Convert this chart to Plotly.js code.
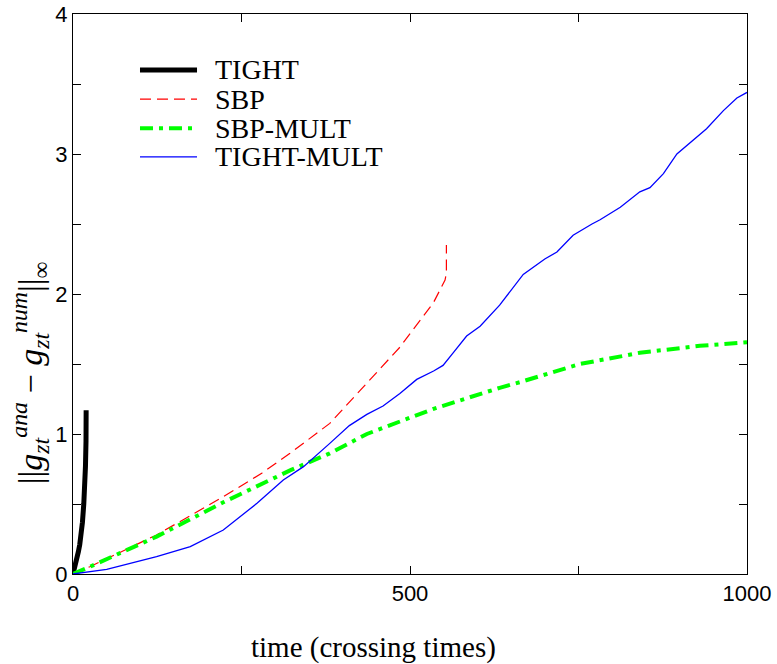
<!DOCTYPE html>
<html>
<head>
<meta charset="utf-8">
<script src="https://cdn.plot.ly/plotly-3.0.1.min.js"></script>
<style>
  html, body { margin: 0; padding: 0; background: #fff; }
  #chart { width: 777px; height: 664px; }
</style>
</head>
<body>
<div id="chart"></div>
<script>
// ---- data ----
const seriesNames = ["TIGHT", "SBP", "SBP-MULT", "TIGHT-MULT"];

const tightT = [0, 3, 6, 8, 10, 12, 14, 16, 17.5, 18.5, 19.3, 19.5];
const tightV = [0, 0.05, 0.11, 0.16, 0.21, 0.28, 0.37, 0.5, 0.62, 0.77, 0.95, 1.17];

const sbpT = [0, 25, 124, 223, 280, 322, 381, 436, 485, 535, 552, 554, 554];
const sbpV = [0, 0.052, 0.279, 0.552, 0.72, 0.862, 1.076, 1.36, 1.62, 1.94, 2.1, 2.15, 2.35];

const sbpMultT = [0, 25, 124, 223, 322, 381, 436, 535, 633, 663, 752, 841, 930, 1000];
const sbpMultV = [0, 0.052, 0.267, 0.512, 0.74, 0.862, 1.0, 1.18, 1.33, 1.37, 1.50, 1.58, 1.63, 1.655];

const tightMultT = [0, 50, 124, 174, 223, 273, 312, 342, 381, 410, 436, 460, 485, 510, 535, 549, 564, 584, 604, 633, 668, 700, 718, 742, 770, 782, 812, 841, 856, 876, 896, 920, 940, 965, 985, 1000];
const tightMultV = [0, 0.033, 0.124, 0.195, 0.314, 0.505, 0.671, 0.767, 0.933, 1.06, 1.14, 1.20, 1.29, 1.39, 1.45, 1.49, 1.58, 1.70, 1.77, 1.92, 2.14, 2.25, 2.30, 2.42, 2.50, 2.53, 2.62, 2.73, 2.76, 2.86, 3.0, 3.1, 3.18, 3.31, 3.40, 3.44];

const xTickVals = [0, 500, 1000];
const yTickVals = [0, 1, 2, 3, 4];

// ---- styles ----
const styles = [
  { color: "#000000", width: 5, dash: "solid" },
  { color: "#ff0000", width: 1.2, dash: "11px,6px" },
  { color: "#00ff00", width: 4, dash: "13px,6px,4px,6px" },
  { color: "#0000ff", width: 1.3, dash: "solid" }
];
const xs = [tightT, sbpT, sbpMultT, tightMultT];
const ys = [tightV, sbpV, sbpMultV, tightMultV];

const traces = seriesNames.map((n, i) => ({
  x: xs[i], y: ys[i], name: n, mode: "lines", line: styles[i]
}));

const sans = "Liberation Sans, Arial, sans-serif";
const serif = "Liberation Serif, Times New Roman, serif";

// legend drawn as paper-positioned samples + text
const legendY = [0.900, 0.848, 0.796, 0.745];
const shapes = seriesNames.map((n, i) => ({
  type: "line", xref: "paper", yref: "paper",
  x0: 0.0994, x1: 0.184, y0: legendY[i], y1: legendY[i],
  line: styles[i]
}));
const annotations = seriesNames.map((n, i) => ({
  xref: "paper", yref: "paper", x: 0.2077, y: legendY[i],
  xanchor: "left", yanchor: "middle", showarrow: false, text: n,
  font: { family: serif, size: 28, color: "#000" }
}));
annotations.push({
  xref: "paper", yref: "paper", x: -0.064, y: 0.36,
  xanchor: "center", yanchor: "middle", textangle: -90, showarrow: false,
  text: "||<i>g</i><sub><i>zt</i></sub><sup><i>ana</i></sup> − <i>g</i><sub><i>zt</i></sub><sup><i>num</i></sup>||<sub>∞</sub>",
  font: { family: serif, size: 34, color: "#000" }
});
annotations.push({
  xref: "paper", yref: "paper", x: 0.446, y: -0.132,
  xanchor: "center", yanchor: "middle", showarrow: false,
  text: "time (crossing times)",
  font: { family: serif, size: 29, color: "#000" }
});

const layout = {
  width: 777, height: 664,
  margin: { l: 73, r: 30, t: 14, b: 90 },
  paper_bgcolor: "#ffffff", plot_bgcolor: "#ffffff",
  showlegend: false,
  xaxis: {
    range: [0, 1000], tickvals: xTickVals, ticktext: xTickVals.map(String),
    ticks: "inside", ticklen: 8, tickcolor: "#000", tickwidth: 1,
    showline: true, linecolor: "#000", linewidth: 1, mirror: "ticks",
    showgrid: false, zeroline: false,
    minor: { ticks: "inside", dtick: 250, ticklen: 8, tickcolor: "#000", showgrid: false },
    tickfont: { family: sans, size: 22, color: "#000" }
  },
  yaxis: {
    range: [0, 4], tickvals: yTickVals, ticktext: yTickVals.map(String),
    ticks: "inside", ticklen: 8, tickcolor: "#000", tickwidth: 1,
    showline: true, linecolor: "#000", linewidth: 1, mirror: "ticks",
    showgrid: false, zeroline: false,
    minor: { ticks: "inside", dtick: 0.5, ticklen: 8, tickcolor: "#000", showgrid: false },
    tickfont: { family: sans, size: 22, color: "#000" }
  },
  shapes: shapes,
  annotations: annotations
};

Plotly.newPlot("chart", traces, layout, { displayModeBar: false, staticPlot: true });
</script>
</body>
</html>
